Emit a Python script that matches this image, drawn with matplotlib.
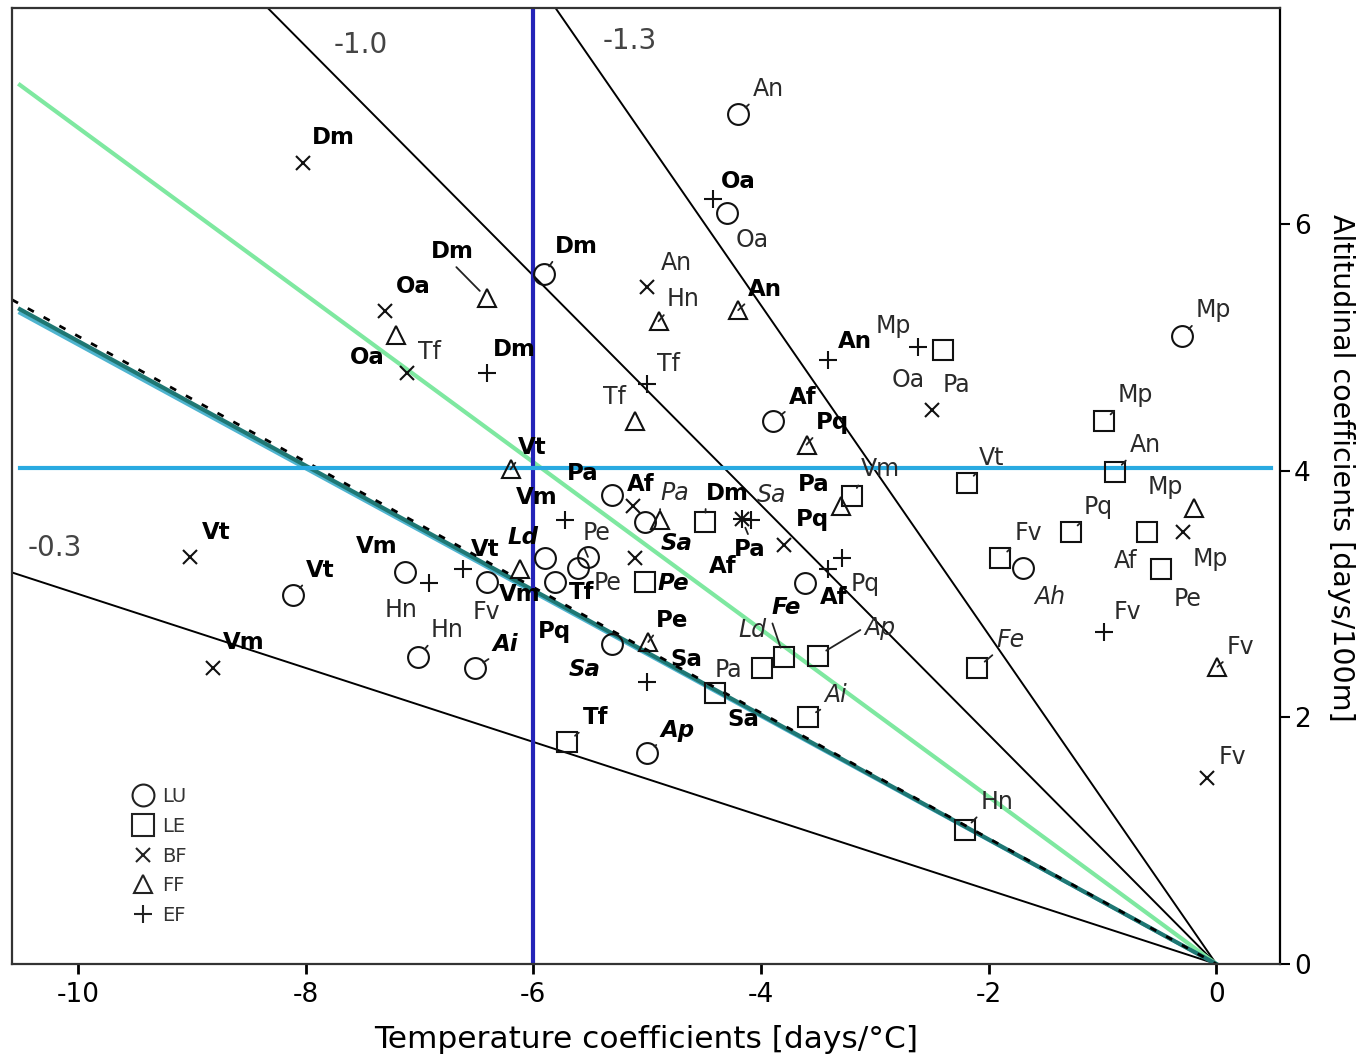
import matplotlib.pyplot as plt
from matplotlib.lines import Line2D

# ---- data ----
# LU (circles)
lu_x = [-4.20, -4.30, -5.91, -3.89, -0.30, -1.70, -8.11, -7.13, -7.01, -6.51,
        -5.31, -5.02, -5.90, -5.52, -5.61, -5.81, -6.41, -3.61, -5.31, -5.00]
lu_y = [6.89, 6.09, 5.59, 4.40, 5.09, 3.21, 2.99, 3.18, 2.49, 2.40,
        3.80, 3.58, 3.29, 3.30, 3.21, 3.10, 3.10, 3.09, 2.59, 1.71]
lu_lab = ['An', 'Oa', 'Dm', 'Af', 'Mp', 'Ah', 'Vt', 'Vm', 'Hn', 'Ai',
          'Pa', '', 'Ld', 'Pe', 'Pe', 'Tf', 'Fv', 'Af', 'Sa', 'Ap']

# LE (squares)
le_x = [-2.40, -0.99, -0.89, -2.19, -3.20, -1.28, -0.61, -1.90, -0.49, -2.10,
        -3.50, -2.21, -4.49, -5.02, -3.80, -3.99, -4.40, -3.59, -5.70]
le_y = [4.98, 4.40, 3.99, 3.90, 3.79, 3.50, 3.50, 3.29, 3.20, 2.40,
        2.50, 1.09, 3.58, 3.10, 2.49, 2.40, 2.20, 2.00, 1.80]
le_lab = ['Oa', 'Mp', 'An', 'Vt', 'Vm', 'Pq', 'Af', 'Fv', 'Pe', 'Fe',
          'Ap', 'Hn', 'Dm', 'Pe', 'Ld', 'Pa', 'Sa', 'Ai', 'Tf']

# BF (crosses)
bf_x = [-8.02, -7.30, -7.11, -5.00, -2.50, -0.29, -0.08, -9.02, -8.81, -5.11,
        -3.80, -4.17, -5.12]
bf_y = [6.49, 5.29, 4.79, 5.49, 4.49, 3.50, 1.51, 3.30, 2.40, 3.29,
        3.40, 3.61, 3.71]
bf_lab = ['Dm', 'Oa', 'Tf', 'An', 'Pa', 'Mp', 'Fv', 'Vt', 'Vm', 'Sa',
          'Pq', 'Sa', 'Af']

# FF (triangles)
ff_x = [-7.21, -6.41, -4.90, -4.20, -5.11, -3.60, -6.20, -0.20, 0.01, -4.89,
        -3.30, -6.12, -4.99]
ff_y = [5.10, 5.40, 5.21, 5.30, 4.40, 4.21, 4.01, 3.70, 2.41, 3.60,
        3.71, 3.20, 2.61]
ff_lab = ['Oa', 'Dm', 'Hn', 'An', 'Tf', 'Pq', 'Vt', 'Mp', 'Fv', 'Pa',
          'Pa', 'Vm', 'Pe']

# EF (plus)
ef_x = [-4.42, -6.41, -5.00, -3.41, -2.62, -0.99, -6.92, -6.62, -5.72, -4.09,
        -3.29, -3.41, -5.00, -4.17]
ef_y = [6.20, 4.79, 4.70, 4.90, 5.00, 2.69, 3.09, 3.20, 3.60, 3.60,
        3.29, 3.20, 2.29, 3.61]
ef_lab = ['Oa', 'Dm', 'Tf', 'An', 'Mp', 'Fv', 'Hn', 'Vt', 'Vm', 'Af',
          '', 'Pq', 'Sa', '']

# reference lines through the origin (slopes) and thresholds
fan_slopes = [-0.30, -0.93, -1.335]
fan_names = ['-0.3', '-1.0', '-1.3']
green_slope = -0.678
teal_slope = -0.505
dashed_slope = -0.509
temp_thr = -6.0
alt_thr = 4.02

# ---- layout (label offsets in pixels, font styles) ----
lu_off = [(30, 25), (25, -27), (33, 28), (29, 24), (31, 26), (27, -29), (27, 25),
          (-28, 25), (29, 27), (30, 23), (-29, 22), (0, 0), (-22, 21), (9, 24),
          (30, -15), (27, -11), (0, -30), (28, -15), (-27, -25), (30, 23)]
lu_sty = ['n', 'n', 'b', 'b', 'n', 'i', 'b', 'b', 'n', 'bi',
          'b', 'n', 'bi', 'n', 'n', 'b', 'n', 'b', 'bi', 'bi']
le_off = [(-35, -30), (32, 26), (30, 27), (25, 25), (28, 27), (28, 25), (-21, -29),
          (28, 25), (27, -30), (33, 28), (62, 28), (32, 28), (22, 29), (28, -2),
          (-31, 27), (-34, -2), (28, -27), (28, 22), (28, 24)]
le_sty = ['n', 'n', 'n', 'n', 'n', 'n', 'n', 'n', 'n', 'i',
          'iL', 'n', 'b', 'bi', 'i', 'n', 'b', 'i', 'b']
bf_off = [(30, 26), (28, 25), (23, 21), (29, 24), (25, 25), (27, -27), (25, 21),
          (27, 24), (30, 25), (42, 15), (29, 25), (30, 24), (7, 22)]
bf_sty = ['b', 'b', 'n', 'n', 'n', 'n', 'n', 'b', 'b', 'bi', 'b', 'i', 'b']
ff_off = [(-28, -23), (-34, 46), (25, 22), (27, 21), (-20, 24), (26, 22), (22, 22),
          (-28, 21), (23, 20), (15, 27), (-27, 22), (0, -25), (24, 22)]
ff_sty = ['b', 'bL', 'n', 'b', 'n', 'b', 'b', 'n', 'n', 'i', 'b', 'b', 'b']
ef_off = [(25, 18), (28, 24), (21, 20), (27, 18), (-25, 21), (24, 20), (-28, -27),
          (22, 20), (-28, 22), (-28, -47), (0, 0), (37, -15), (39, 22), (0, 0)]
ef_sty = ['b', 'b', 'n', 'b', 'n', 'n', 'n', 'b', 'b', 'b', 'n', 'n', 'b', 'n']

# extra labels attached to an existing point: group, index, text, style, dx, dy
extra_labels = [('LE', 14, 'Fe', 'bi', 2, 49),
                ('BF', 11, 'Pa', 'bL', 8, -31),
                ('LU', 18, 'Pq', 'b', -57, 13)]

groups = {
    'LU': dict(x=lu_x, y=lu_y, lab=lu_lab, off=lu_off, sty=lu_sty,
               marker='o', ms=15, lead=True),
    'LE': dict(x=le_x, y=le_y, lab=le_lab, off=le_off, sty=le_sty,
               marker='s', ms=15, lead=True),
    'BF': dict(x=bf_x, y=bf_y, lab=bf_lab, off=bf_off, sty=bf_sty,
               marker='x', ms=10, lead=False),
    'FF': dict(x=ff_x, y=ff_y, lab=ff_lab, off=ff_off, sty=ff_sty,
               marker='^', ms=12.5, lead=True),
    'EF': dict(x=ef_x, y=ef_y, lab=ef_lab, off=ef_off, sty=ef_sty,
               marker='+', ms=13, lead=False),
}

plt.rcParams['font.family'] = ['DejaVu Sans']

fig = plt.figure(figsize=(13.57, 10.59), dpi=100)
ax = fig.add_axes([0.0088, 0.0897, 0.9345, 0.9028])
x0, x1 = -10.58, 0.56
ax.set_xlim(x0, x1)
ax.set_ylim(0, 7.75)

# fan of black lines through origin
for s in fan_slopes:
    ax.plot([x0, 0], [s * x0, 0], color='black', lw=1.4, zorder=2)
ax.text(-7.52, 7.45, fan_names[1], fontsize=20, color='#444', ha='center', va='center')
ax.text(-5.15, 7.48, fan_names[2], fontsize=20, color='#444', ha='center', va='center')
ax.text(-10.20, 3.37, fan_names[0], fontsize=20, color='#444', ha='center', va='center')

xs = -10.51
ax.plot([xs, 0], [green_slope * xs, 0], color='#7ee8a0', lw=3, zorder=2)
ax.plot([xs, 0], [(teal_slope + 0.003) * xs, 0], color='#4fb4cf', lw=2.5, zorder=2)
ax.plot([xs, 0], [teal_slope * xs, 0], color='#1e7773', lw=3, zorder=2)
ax.plot([x0, 0], [dashed_slope * x0, 0], color='black', lw=2, dashes=(2.5, 4), zorder=2)
ax.axvline(temp_thr, color='#2424b8', lw=3, zorder=2)
ax.plot([xs, 0.48], [alt_thr, alt_thr], color='#29aae1', lw=3, zorder=2)

# points
for name, g in groups.items():
    ax.plot(g['x'], g['y'], ls='none', marker=g['marker'], ms=g['ms'],
            mfc='none', mec='#111', mew=1.5, zorder=4)


def put_label(x, y, lab, st, dx, dy, lead):
    kw = dict(fontsize=17 if 'b' not in st else 16.5,
              fontweight='bold' if 'b' in st else 'normal',
              fontstyle='italic' if 'i' in st else 'normal',
              color='black' if 'b' in st else '#2a2a2a',
              ha='center', va='center', zorder=5)
    arrow = None
    if 'L' in st:
        if abs(dx) > abs(dy):
            rel = (0 if dx > 0 else 1, 0.5)
        else:
            rel = (0.5, 0 if dy > 0 else 1)
        arrow = dict(arrowstyle='-', lw=1.3, color='#222', shrinkA=1,
                     shrinkB=7, relpos=rel)
    elif lead and dx > 0 and dy > 0:
        arrow = dict(arrowstyle='-', lw=1.3, color='#222', shrinkA=1,
                     shrinkB=7, relpos=(0, 0))
    ax.annotate(lab, (x, y), xytext=(dx, dy), textcoords='offset pixels',
                arrowprops=arrow, **kw)


for name, g in groups.items():
    for x, y, lab, (dx, dy), st in zip(g['x'], g['y'], g['lab'], g['off'], g['sty']):
        if lab:
            put_label(x, y, lab, st, dx, dy, g['lead'])

for name, i, lab, st, dx, dy in extra_labels:
    g = groups[name]
    put_label(g['x'][i], g['y'][i], lab, st, dx, dy, g['lead'])

# legend
handles = [Line2D([], [], ls='none', marker=g['marker'], ms=g['ms'] * 1.05,
                  mfc='none', mec='#222', mew=1.5) for g in groups.values()]
leg = ax.legend(handles, list(groups.keys()), loc='upper left',
                bbox_to_anchor=(0.0954, 0.185), frameon=False, fontsize=14,
                handlelength=1.03, handletextpad=0.45, labelspacing=0.55,
                borderpad=0, borderaxespad=0)
for t in leg.get_texts():
    t.set_color('#333')

# axes styling
ax.set_xticks([-10, -8, -6, -4, -2, 0])
ax.set_xticklabels(['-10', '-8', '-6', '-4', '-2', '0'])
ax.set_yticks([0, 2, 4, 6])
ax.yaxis.tick_right()
ax.tick_params(axis='x', direction='out', length=7, width=2, labelsize=19, pad=6)
ax.tick_params(axis='y', direction='out', length=7, width=1.5, labelsize=19, pad=3)
for sp in ax.spines.values():
    sp.set_linewidth(1.6)
    sp.set_color('#333')
ax.spines['right'].set_color('black')

ax.set_xlabel('Temperature coefficients [days/\u00b0C]', fontsize=22.5, labelpad=12)
ax.set_ylabel('Altitudinal coefficients [days/100m]', fontsize=20.5, rotation=270)
ax.yaxis.set_label_position('right')
ax.yaxis.set_label_coords(1.059, 0.519)

fig.savefig('out.png', dpi=100)
